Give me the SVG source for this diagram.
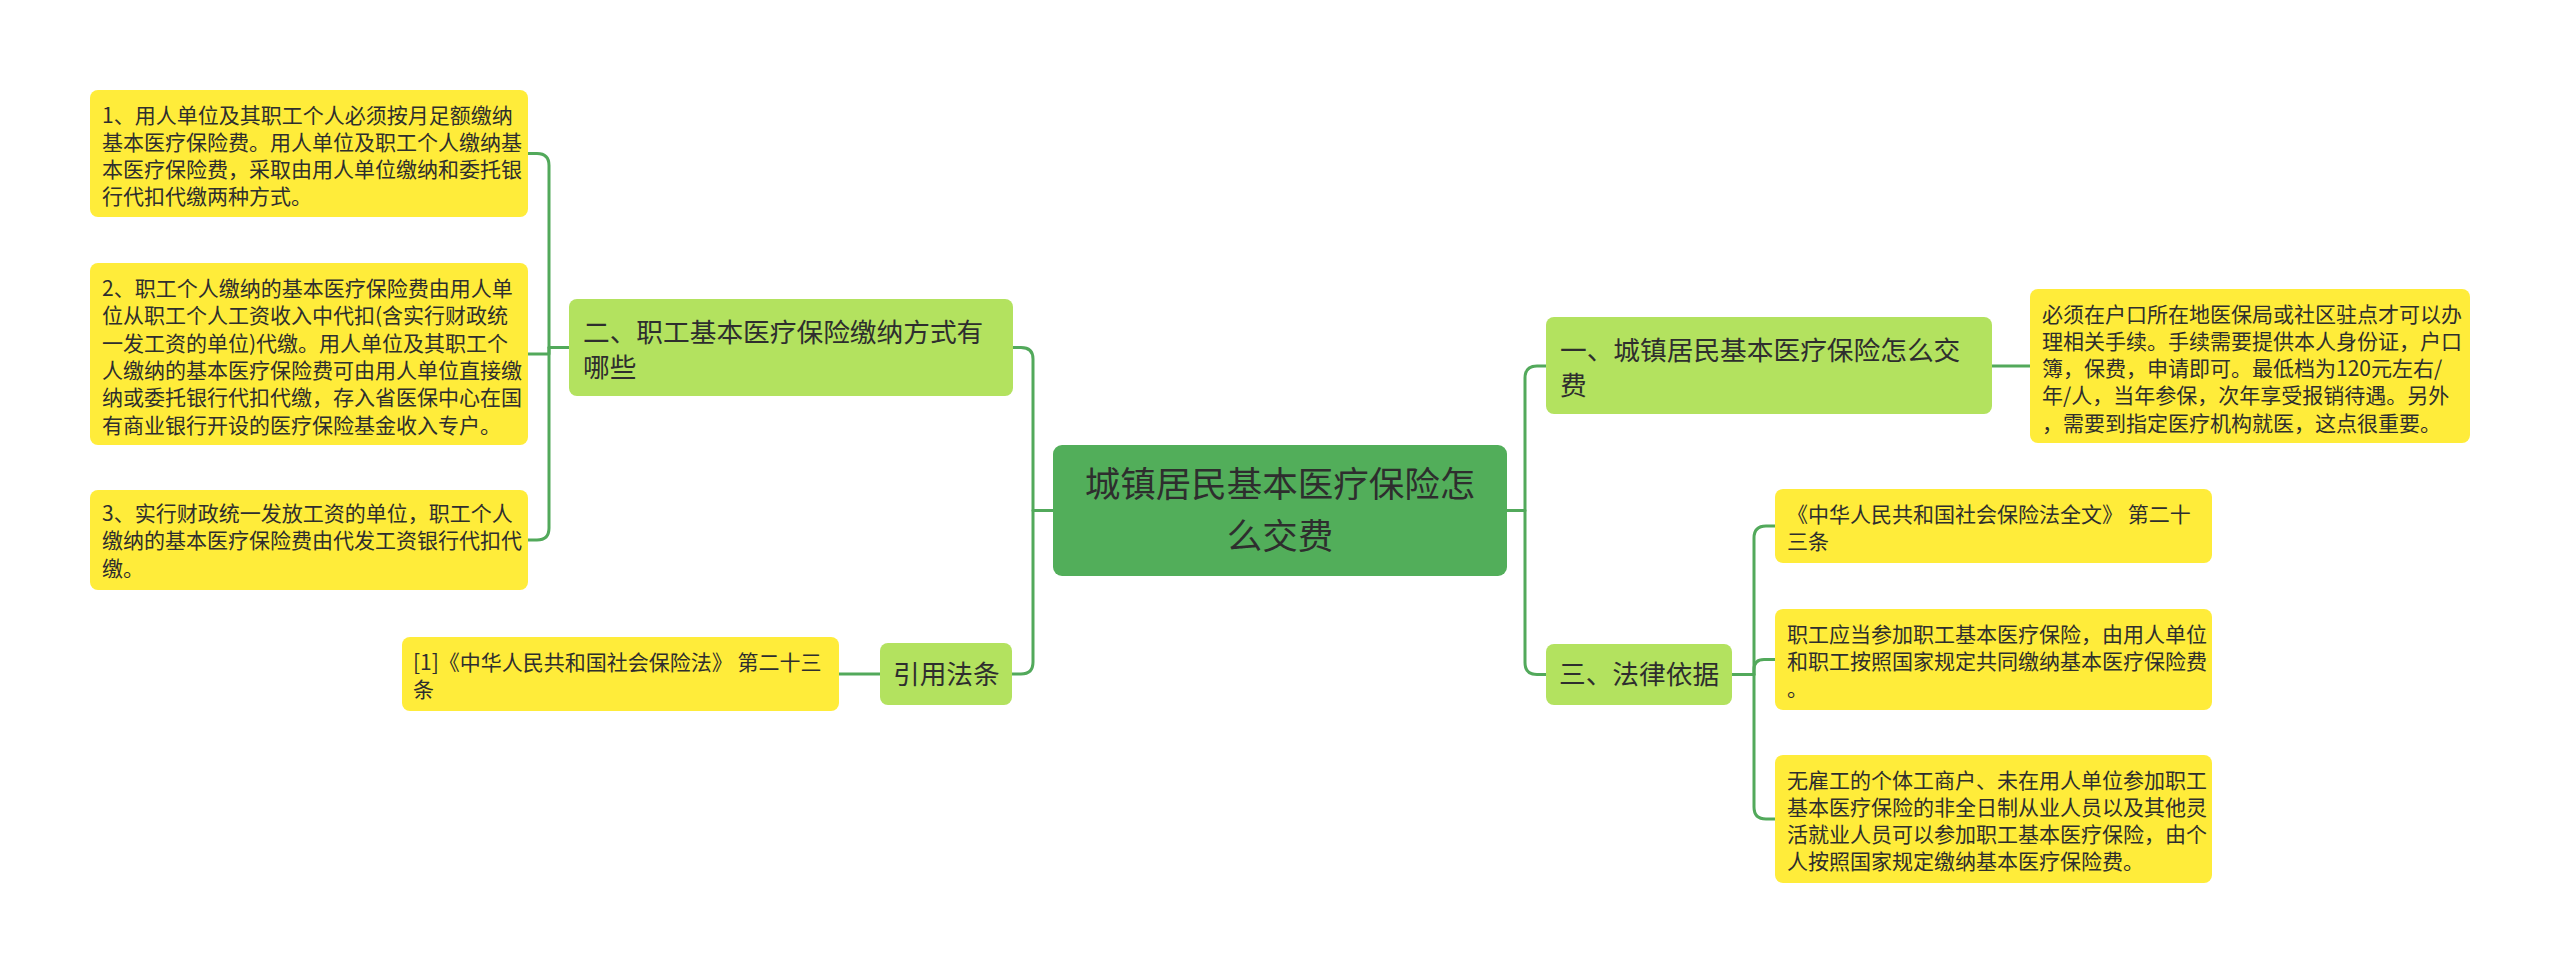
<svg xmlns="http://www.w3.org/2000/svg" width="2560" height="974" viewBox="0 0 2560 974">
<style>
.root{fill:#52ae5a}
.l1{fill:#b3e25f}
.leaf{fill:#ffec3a}
text{font-family:"Noto Sans CJK SC","Noto Sans",sans-serif;fill:#2e2e2e}
.t0{font-size:35.5px}
.t1{font-size:26.7px}
.t2{font-size:21px}
.c{fill:none;stroke:#52a95b;stroke-width:3;stroke-linecap:round;stroke-linejoin:round}
</style>
<rect width="2560" height="974" fill="#ffffff"/>
<g id="connectors">
<path class="c" d="M1053 510.5 H1033 V359 Q1033 347.5 1021 347.5 H1013"/>
<path class="c" d="M1053 510.5 H1033 V662 Q1033 674 1021 674 H1012"/>
<path class="c" d="M1507 510.5 H1525 V378 Q1525 366 1537 366 H1546"/>
<path class="c" d="M1507 510.5 H1525 V662.5 Q1525 674.5 1537 674.5 H1546"/>
<path class="c" d="M569 347.5 H549 V165.5 Q549 153.5 537 153.5 H528"/>
<path class="c" d="M569 347.5 H549 V354 H528"/>
<path class="c" d="M569 347.5 H549 V528 Q549 540 537 540 H528"/>
<path class="c" d="M1732 674.5 H1754 V538 Q1754 526 1766 526 H1775"/>
<path class="c" d="M1732 674.5 H1754 V669.5 Q1754 659.5 1764 659.5 H1775"/>
<path class="c" d="M1732 674.5 H1754 V807 Q1754 819 1766 819 H1775"/>
<path class="c" d="M1992 366 H2030"/>
<path class="c" d="M880 674 H839"/>
</g>
<g id="root">
<rect class="root" x="1053" y="445" width="454" height="131" rx="9"/>
<text class="t0" x="1280" y="497" text-anchor="middle">城镇居民基本医疗保险怎</text>
<text class="t0" x="1280" y="549" text-anchor="middle">么交费</text>
</g>
<g id="n2">
<rect class="l1" x="569" y="299" width="444" height="97" rx="8"/>
<text class="t1" x="583" y="341.5">二、职工基本医疗保险缴纳方式有</text>
<text class="t1" x="583" y="376.5">哪些</text>
</g>
<g id="ncite">
<rect class="l1" x="880" y="643" width="132" height="62" rx="8"/>
<text class="t1" x="893" y="684">引用法条</text>
</g>
<g id="n1">
<rect class="l1" x="1546" y="317" width="446" height="97" rx="8"/>
<text class="t1" x="1560" y="359.5">一、城镇居民基本医疗保险怎么交</text>
<text class="t1" x="1560" y="394.5">费</text>
</g>
<g id="n3">
<rect class="l1" x="1546" y="644" width="186" height="61" rx="8"/>
<text class="t1" x="1559" y="684">三、法律依据</text>
</g>
<g id="leaf1">
<rect class="leaf" x="90" y="90" width="438" height="127" rx="8"/>
<text class="t2" x="102" y="122.5">1、用人单位及其职工个人必须按月足额缴纳</text>
<text class="t2" x="102" y="149.8">基本医疗保险费。用人单位及职工个人缴纳基</text>
<text class="t2" x="102" y="177.1">本医疗保险费，采取由用人单位缴纳和委托银</text>
<text class="t2" x="102" y="204.4">行代扣代缴两种方式。</text>
</g>
<g id="leaf2">
<rect class="leaf" x="90" y="263" width="438" height="182" rx="8"/>
<text class="t2" x="102" y="296">2、职工个人缴纳的基本医疗保险费由用人单</text>
<text class="t2" x="102" y="323.3">位从职工个人工资收入中代扣(含实行财政统</text>
<text class="t2" x="102" y="350.6">一发工资的单位)代缴。用人单位及其职工个</text>
<text class="t2" x="102" y="377.9">人缴纳的基本医疗保险费可由用人单位直接缴</text>
<text class="t2" x="102" y="405.2">纳或委托银行代扣代缴，存入省医保中心在国</text>
<text class="t2" x="102" y="432.5">有商业银行开设的医疗保险基金收入专户。</text>
</g>
<g id="leaf3">
<rect class="leaf" x="90" y="490" width="438" height="100" rx="8"/>
<text class="t2" x="102" y="521">3、实行财政统一发放工资的单位，职工个人</text>
<text class="t2" x="102" y="548.3">缴纳的基本医疗保险费由代发工资银行代扣代</text>
<text class="t2" x="102" y="575.6">缴。</text>
</g>
<g id="leafcite">
<rect class="leaf" x="402" y="637" width="437" height="74" rx="8"/>
<text class="t2" x="413" y="669.5">[1]《中华人民共和国社会保险法》 第二十三</text>
<text class="t2" x="413" y="696.8">条</text>
</g>
<g id="leafr1">
<rect class="leaf" x="2030" y="289" width="440" height="154" rx="8"/>
<text class="t2" x="2042" y="321.5">必须在户口所在地医保局或社区驻点才可以办</text>
<text class="t2" x="2042" y="348.8">理相关手续。手续需要提供本人身份证，户口</text>
<text class="t2" x="2042" y="376.1">簿，保费，申请即可。最低档为120元左右/</text>
<text class="t2" x="2042" y="403.4">年/人，当年参保，次年享受报销待遇。另外</text>
<text class="t2" x="2042" y="430.7">，需要到指定医疗机构就医，这点很重要。</text>
</g>
<g id="leafr2">
<rect class="leaf" x="1775" y="489" width="437" height="74" rx="8"/>
<text class="t2" x="1787" y="521.5">《中华人民共和国社会保险法全文》 第二十</text>
<text class="t2" x="1787" y="548.8">三条</text>
</g>
<g id="leafr3">
<rect class="leaf" x="1775" y="609" width="437" height="101" rx="8"/>
<text class="t2" x="1787" y="641.5">职工应当参加职工基本医疗保险，由用人单位</text>
<text class="t2" x="1787" y="668.8">和职工按照国家规定共同缴纳基本医疗保险费</text>
<text class="t2" x="1787" y="696.1">。</text>
</g>
<g id="leafr4">
<rect class="leaf" x="1775" y="755" width="437" height="128" rx="8"/>
<text class="t2" x="1787" y="787.5">无雇工的个体工商户、未在用人单位参加职工</text>
<text class="t2" x="1787" y="814.8">基本医疗保险的非全日制从业人员以及其他灵</text>
<text class="t2" x="1787" y="842.1">活就业人员可以参加职工基本医疗保险，由个</text>
<text class="t2" x="1787" y="869.4">人按照国家规定缴纳基本医疗保险费。</text>
</g>
</svg>
